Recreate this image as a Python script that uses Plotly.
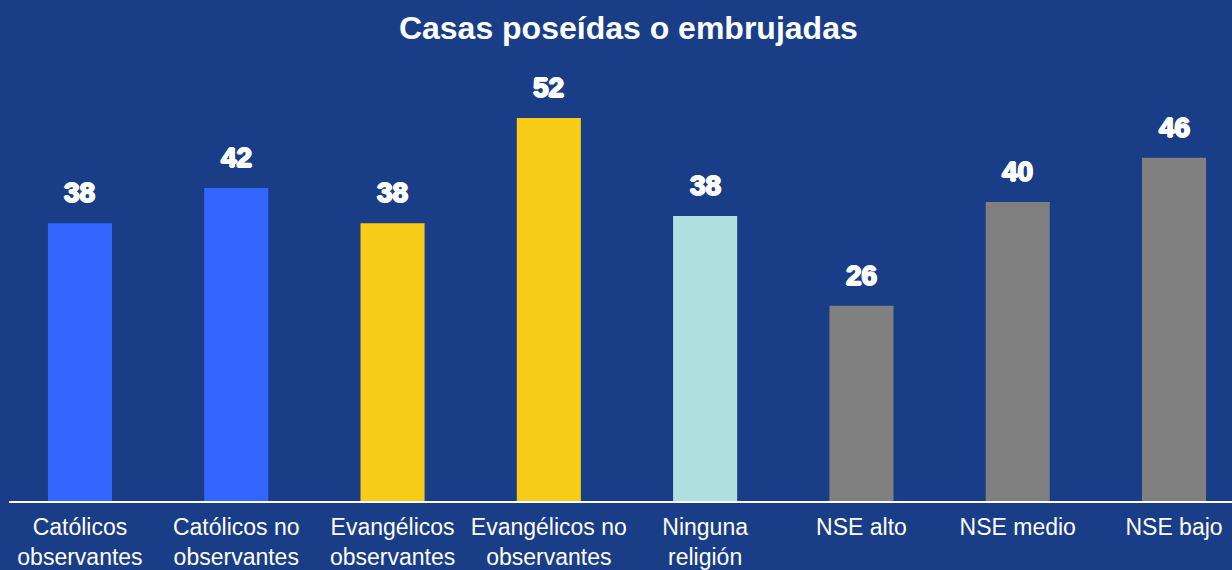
import plotly.graph_objects as go

categories = ["Católicos<br>observantes", "Católicos no<br>observantes", "Evangélicos<br>observantes",
              "Evangélicos no<br>observantes", "Ninguna<br>religión", "NSE alto", "NSE medio", "NSE bajo"]
values = [37.7, 42.5, 37.7, 52.0, 38.7, 26.5, 40.6, 46.6]
labels = ["38", "42", "38", "52", "38", "26", "40", "46"]
colors = ["#3366FF", "#3366FF", "#F7CC19", "#F7CC19", "#B0DFE0", "#808080", "#808080", "#808080"]

BG = "#193D86"

fig = go.Figure()
fig.add_trace(go.Bar(x=categories, y=values, marker=dict(color=colors, line=dict(width=0)),
                     width=0.41, hoverinfo="skip"))

for c, v, t in zip(categories, values, labels):
    fig.add_annotation(x=c, y=v, text="<b>%s</b>" % t, showarrow=False, yanchor="bottom",
                       yshift=13,
                       font=dict(family="Liberation Sans", size=28, color="white",
                                 shadow="1px 0 0 white, -1px 0 0 white, 0 1px 0 white, 0 -1px 0 white"))

fig.update_layout(
    width=1232, height=570,
    paper_bgcolor=BG, plot_bgcolor=BG,
    margin=dict(l=9, r=0, t=59, b=69),
    title=dict(text="<b>Casas poseídas o embrujadas</b>", x=0.51, xanchor="center", y=0.952, yanchor="middle",
               font=dict(family="Liberation Sans", size=32, color="white")),
    showlegend=False,
    xaxis=dict(range=[-0.454, 7.371], showline=True, linecolor="white", linewidth=2,
               showgrid=False, ticks="", ticklabelstandoff=4, automargin=False,
               tickfont=dict(family="Liberation Sans", size=23, color="white")),
    yaxis=dict(range=[0, 60], visible=False, showgrid=False, automargin=False),
)

fig.write_html("out.html", config={"displayModeBar": False},
               post_script="document.body.style.margin='0';document.body.style.overflow='hidden';")
